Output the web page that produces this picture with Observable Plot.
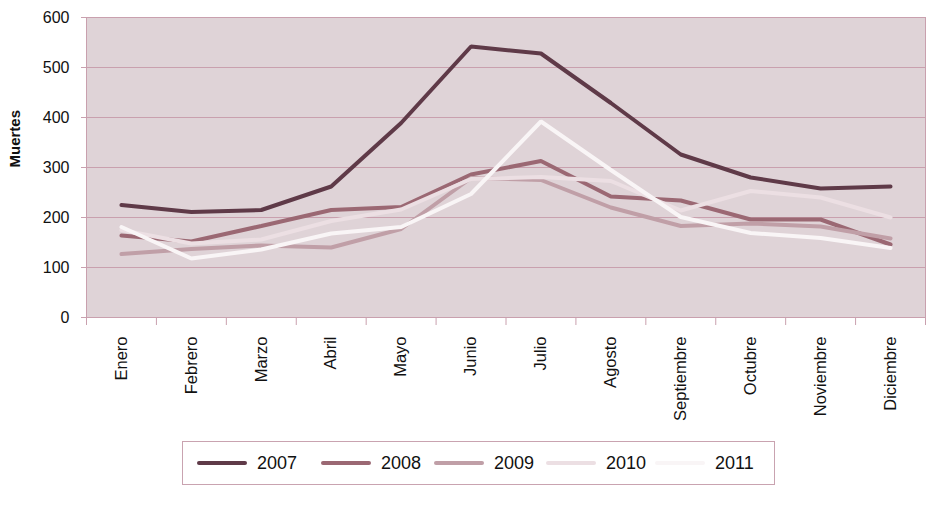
<!DOCTYPE html>
<html>
<head>
<meta charset="utf-8">
<script src="https://cdn.jsdelivr.net/npm/d3@7"></script>
<script src="https://cdn.jsdelivr.net/npm/@observablehq/plot@0.6"></script>
<style>
  html, body { margin: 0; padding: 0; background: #fff; }
  body { width: 930px; height: 505px; overflow: hidden; font-family: "Liberation Sans", Arial, sans-serif; }
  #legend {
    position: absolute; left: 182px; top: 441px; width: 591px; height: 42px;
    border: 1px solid #c9a3b0; box-sizing: content-box;
  }
  .item { position: absolute; top: 0; height: 42px; display: flex; align-items: center; }
  .sw { width: 50px; height: 4px; border-radius: 2px; margin-right: 10px; }
  .lab { font-size: 18px; color: #111; }
</style>
</head>
<body>
<div id="chart"></div>
<div id="legend"></div>
<script>
const months = ["Enero","Febrero","Marzo","Abril","Mayo","Junio","Julio","Agosto","Septiembre","Octubre","Noviembre","Diciembre"];
const years = ["2007","2008","2009","2010","2011"];
const v2007 = [225, 211, 215, 262, 389, 542, 528, 429, 326, 280, 258, 262];
const v2008 = [164, 152, 183, 215, 221, 286, 313, 242, 234, 196, 196, 146];
const v2009 = [127, 137, 144, 140, 177, 279, 275, 220, 183, 188, 182, 158];
const v2010 = [175, 148, 156, 193, 216, 277, 281, 273, 214, 253, 240, 200];
const v2011 = [181, 118, 136, 168, 181, 247, 392, 295, 201, 169, 159, 139];
const yTicks = [0, 100, 200, 300, 400, 500, 600];
const colors = ["#5f3a48", "#9b6873", "#c09fa7", "#ecdfe3", "#f9f5f6"];

const series = [v2007, v2008, v2009, v2010, v2011];
const data = [];
series.forEach((vals, s) => vals.forEach((v, i) => data.push({year: years[s], i: i + 0.5, month: months[i], value: v})));

const grid = "#c9a0ae";
const chart = Plot.plot({
  width: 930,
  height: 432,
  marginLeft: 86,
  marginRight: 5,
  marginTop: 17,
  marginBottom: 115,
  style: {fontFamily: "'Liberation Sans', Arial, sans-serif", background: "#fff"},
  x: {domain: [0, 12], axis: null},
  y: {domain: [0, 600], axis: null},
  color: {domain: years, range: colors},
  marks: [
    Plot.frame({fill: "#dfd3d7", stroke: grid}),
    Plot.ruleY(yTicks.slice(1), {stroke: grid, strokeWidth: 1}),
    Plot.axisY({ticks: yTicks, tickSize: 5, tickPadding: 12, fontSize: 16, stroke: grid, color: "#111", label: null}),
    Plot.text(["Muertes"], {frameAnchor: "left", dx: -71, rotate: -90, fontSize: 15, fontWeight: "bold", fill: "#111"}),
    Plot.axisX({ticks: d3.range(0, 13), tickSize: 8, tickFormat: () => "", stroke: grid, label: null}),
    Plot.axisX({ticks: d3.range(12).map(i => i + 0.5), tickSize: 0, tickPadding: 19, tickRotate: -90, tickFormat: d => months[Math.floor(d)], fontSize: 16.5, fill: "#111", label: null}),
    Plot.ruleY([0], {stroke: grid}),
    Plot.line(data, {x: "i", y: "value", z: "year", stroke: "year", strokeWidth: 4, strokeLinejoin: "miter", strokeLinecap: "round"})
  ]
});
document.getElementById("chart").appendChild(chart);

const legend = document.getElementById("legend");
const lefts = [14, 138, 251, 363, 472];
years.forEach((y, k) => {
  const it = document.createElement("div");
  it.className = "item";
  it.style.left = lefts[k] + "px";
  it.innerHTML = `<div class="sw" style="background:${colors[k]}"></div><span class="lab">${y}</span>`;
  legend.appendChild(it);
});
</script>
</body>
</html>
